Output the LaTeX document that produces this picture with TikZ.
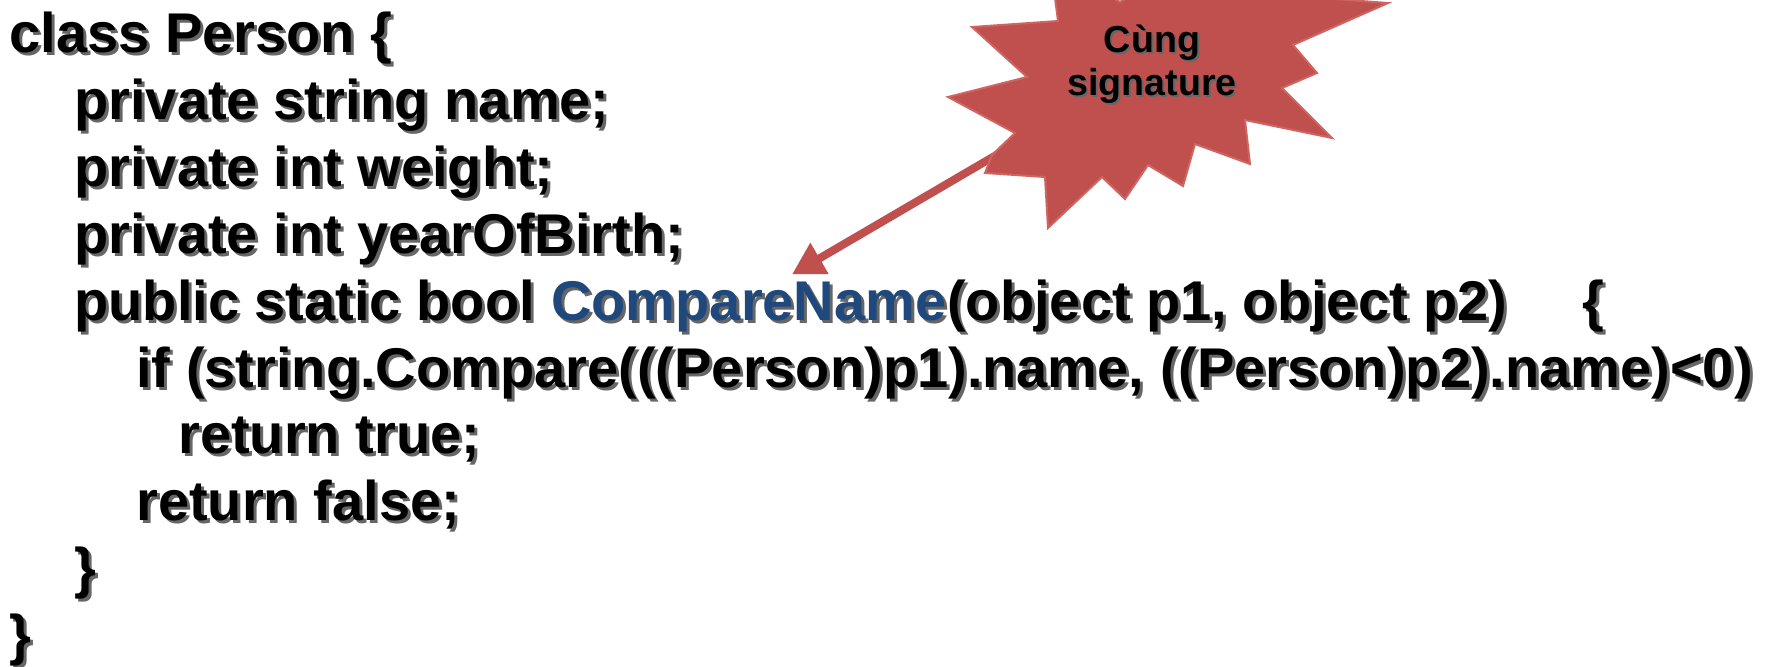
\documentclass[tikz,border=0pt]{standalone}
\usepackage{fontspec}
\setmainfont{Liberation Sans}
\usetikzlibrary{arrows.meta}

\definecolor{burstred}{RGB}{192,80,77}
\definecolor{burstedge}{RGB}{208,100,96}
\definecolor{cmpblue}{RGB}{31,73,125}
\definecolor{txtshadow}{gray}{0.4}

\tikzset{
  code/.style={inner sep=0pt, anchor=base west, font=\fontsize{28}{34}\selectfont\bfseries},
  note/.style={inner sep=0pt, align=center, font=\fontsize{18.8}{21.5}\selectfont\bfseries},
  callarrow/.style={-{Triangle[length=16pt,width=17pt]}, line width=4pt, burstred},
}

\begin{document}
\begin{tikzpicture}[x=0.5pt, y=-0.5pt]
        \useasboundingbox (0,0) rectangle (1769,666);
        \clip (0,0) rectangle (1769,666);

        % Code lines: grey shadow pass first, then the real text
        \foreach \off/\ink/\hue in {3/txtshadow/txtshadow, 0/black/cmpblue}{
          \begin{scope}[shift={(\off,\off)}, text=\ink]
            \node[code] (cls) at (9,52) {class Person \{};
            \node[code] (fname) at (74,119) {private string name;};
            \node[code] (fweight) at (74,186) {private int weight;};
            \node[code] (fyear) at (74,253) {private int yearOfBirth;};
            \node[code] (pub) at (74,320) {public static bool};
            \node[code, text=\hue] (cmp) at ([xshift=7.8pt]pub.base east) {CompareName};
            \node[code] (args) at (cmp.base east) {(object p1, object p2)};
            \node[code] (obrace) at (1582,320) {\{};
            \node[code] (ifline) at (136,387) {if (string.Compare(((Person)p1).name, ((Person)p2).name)<0)};
            \node[code] (rettrue) at (178,453) {return true;};
            \node[code] (retfalse) at (136,520) {return false;};
            \node[code] (cbrace) at (74,587) {\}};
            \node[code] (cbraceout) at (9,654) {\}};
          \end{scope}
        }

        % Callout pointing at the method name
        \coordinate (burst) at (1152,64);
        \coordinate (tip) at ([xshift=21.5pt, yshift=3pt]cmp.north);
        \draw[callarrow] (burst) -- (tip);

        % Explosion shape
        \filldraw[fill=burstred, draw=burstedge, line width=1pt]
          (992,155) -- (985,173) -- (1045,177) -- (1048,228) -- (1102,177)
          -- (1125,199) -- (1148,165) -- (1183,186) -- (1195,144) -- (1250,164)
          -- (1245,120) -- (1332,138) -- (1282,88) -- (1317,73) -- (1293,45)
          -- (1388,3) -- (1268,-6) -- (1200,-50) -- (1120,2) -- (1050,-40)
          -- (1058,21) -- (972,27) -- (1027,77) -- (948,97) -- (1015,133) -- cycle;

        \node[note, text=txtshadow] (sigshadow) at ([shift={(1pt,-1pt)}]burst) {Cùng\\signature};
        \node[note] (sig) at (burst) {Cùng\\signature};
    \end{tikzpicture}
\end{document}
